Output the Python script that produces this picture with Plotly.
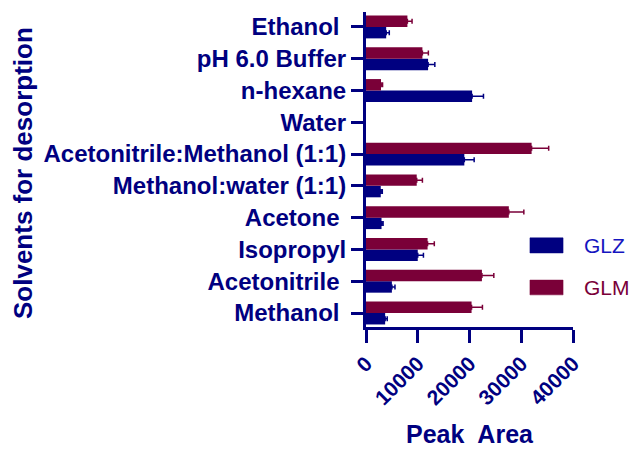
import plotly.graph_objects as go

# Desorption solvents, listed bottom to top
solvents = ["Methanol\u00a0", "Acetonitrile\u00a0", "Isopropyl", "Acetone\u00a0",
            "Methanol:water (1:1)", "Acetonitrile:Methanol (1:1)", "Water",
            "n-hexane", "pH 6.0 Buffer", "Ethanol\u00a0"]

# Water gave no measurable peak, so it has no bar
glz_area = [3700, 5000, 10000, 3000, 2850, 19000, None, 20500, 12000, 3900]
glz_err = [400, 600, 1100, 300, 300, 1900, None, 2200, 1300, 600]

glm_area = [20400, 22400, 11900, 27600, 9800, 32000, None, 2900, 10900, 8000]
glm_err = [2100, 2300, 1300, 2900, 1100, 3300, None, 300, 1150, 900]

x_ticks = [0, 10000, 20000, 30000, 40000]

NAVY = "#000080"
MAROON = "#7A0038"
FONT = "Liberation Sans, Arial, sans-serif"


def minus_side(err):
    return [0 if e is not None else None for e in err]


fig = go.Figure()
fig.add_trace(go.Bar(
    y=solvents, x=glz_area, orientation="h", name="GLZ",
    marker=dict(color=NAVY, line=dict(width=0)),
    error_x=dict(type="data", array=glz_err, arrayminus=minus_side(glz_err),
                 symmetric=False, color=NAVY, thickness=1.5, width=2.5),
))
fig.add_trace(go.Bar(
    y=solvents, x=glm_area, orientation="h", name="GLM",
    marker=dict(color=MAROON, line=dict(width=0)),
    error_x=dict(type="data", array=glm_err, arrayminus=minus_side(glm_err),
                 symmetric=False, color=MAROON, thickness=1.5, width=2.5),
))

fig.update_layout(
    width=640, height=452,
    margin=dict(l=366, r=67, t=12, b=125),
    paper_bgcolor="white", plot_bgcolor="white",
    barmode="group", bargap=0.28, bargroupgap=0,
    showlegend=False,
    font=dict(family=FONT, color=NAVY),
)

fig.update_xaxes(
    range=[0, 40000], tickvals=x_ticks, ticktext=[str(v) for v in x_ticks],
    tickangle=-45, tickfont=dict(size=21, family=FONT, color=NAVY, weight="bold"),
    showline=True, linecolor=NAVY, linewidth=3, mirror=False,
    ticks="outside", ticklen=13, tickwidth=3, tickcolor=NAVY,
    showgrid=False, zeroline=False,
)
fig.update_yaxes(
    categoryorder="array", categoryarray=solvents, range=[-0.44, 9.47],
    tickfont=dict(size=24, family=FONT, color=NAVY, weight="bold"),
    showline=True, linecolor=NAVY, linewidth=3,
    ticks="outside", ticklen=12, tickwidth=3, tickcolor=NAVY,
    showgrid=False, zeroline=False,
)

# Axis titles
fig.add_annotation(text="Peak  Area", xref="paper", yref="paper",
                   x=0.5, y=-0.392, xanchor="center", yanchor="bottom",
                   showarrow=False,
                   font=dict(size=25, family=FONT, color=NAVY, weight="bold"))
fig.add_annotation(text="Solvents for desorption", xref="paper", yref="paper",
                   x=-1.66, y=0.49, xanchor="center", yanchor="middle",
                   textangle=-90, showarrow=False,
                   font=dict(size=26, family=FONT, color=NAVY, weight="bold"))

# Legend swatches and labels
legend_items = [("GLZ", NAVY, "#1515C0", 0.283, 0.235, 0.258),
                ("GLM", MAROON, MAROON, 0.149, 0.102, 0.126)]
for name, fill, txt, y_top, y_bot, y_mid in legend_items:
    fig.add_shape(type="rect", xref="paper", yref="paper",
                  x0=0.792, x1=0.952, y0=y_bot, y1=y_top,
                  fillcolor=fill, line=dict(color=fill, width=0.5))
    fig.add_annotation(text=name, xref="paper", yref="paper",
                       x=1.045, y=y_mid, xanchor="left", yanchor="middle",
                       showarrow=False,
                       font=dict(size=21, family=FONT, color=txt))

fig.write_html("out.html")
